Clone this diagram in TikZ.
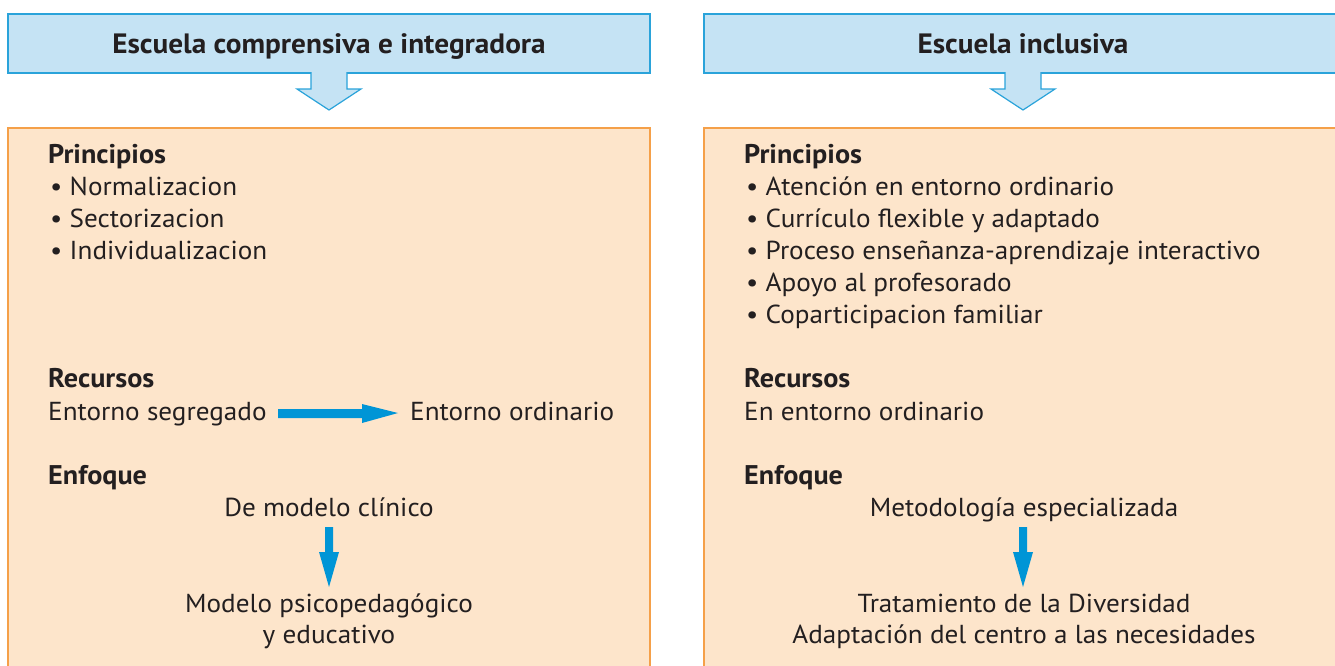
\documentclass[tikz,border=0pt]{standalone}
\usepackage{fontspec}
\setmainfont[FakeStretch=1.045]{PT Sans}
\definecolor{hdrfill}{HTML}{C5E3F4}
\definecolor{hdrline}{HTML}{2AA3DA}
\definecolor{boxfill}{HTML}{FDE5CB}
\definecolor{boxline}{HTML}{F5A049}
\definecolor{arrblue}{HTML}{0095D6}
\definecolor{txt}{HTML}{231F20}
\tikzset{
  hdr/.style={draw=hdrline, fill=hdrfill, line width=1.2pt},
  panel/.style={draw=boxline, fill=boxfill, line width=1.2pt},
  body/.style={anchor=base west, inner sep=0pt, text=txt, font=\fontsize{26}{30}\selectfont},
  bodyc/.style={anchor=base, inner sep=0pt, text=txt, font=\fontsize{26}{30}\selectfont, align=center},
  head/.style={anchor=base west, inner sep=0pt, text=txt, font=\fontsize{27}{30}\selectfont\bfseries},
  title/.style={anchor=base, inner sep=0pt, text=txt, font=\fontsize{28}{32}\selectfont\bfseries},
  blockarrow/.style={draw=hdrline, fill=hdrfill, line width=1.2pt, line join=miter},
  bluearrow/.style={fill=arrblue, draw=none}
}
\begin{document}
\begin{tikzpicture}[x=1pt,y=-1pt]
\useasboundingbox (0,0) rectangle (1335,665);
\begin{scope}
\clip (0,0) rectangle (1335,665);
% panels
\draw[panel] (8,128) rectangle (650,700);
\draw[panel] (704,128) rectangle (1360,700);
% headers
\draw[hdr] (8,14) rectangle (650,73);
\draw[hdr] (704,14) rectangle (1360,73);
% block arrows
\draw[blockarrow] (311,72) -- (311,89) -- (297,89) -- (329,110) -- (361,89) -- (347,89) -- (347,72);
\draw[blockarrow] (1005,72) -- (1005,89) -- (991,89) -- (1023,110) -- (1055,89) -- (1041,89) -- (1041,72);
% cover header bottom inside arrow stems
\fill[hdrfill] (311.6,71) rectangle (346.4,74);
\fill[hdrfill] (1005.6,71) rectangle (1040.4,74);
\end{scope}

% header titles
\node[title] (t1) at (329,53) {Escuela comprensiva e integradora};
\node[title] (t2) at (1023,53) {Escuela inclusiva};

% left panel
\node[head] (lp) at (48,163) {Principios};
\node[body] (lp1) at (50,195) {• Normalizacion};
\node[body] (lp2) at (50,227) {• Sectorizacion};
\node[body] (lp3) at (50,259) {• Individualizacion};
\node[head] (lr) at (48,387) {Recursos};
\node[body] (lr1) at (48,420) {Entorno segregado};
\node[body] (lr2) at (410,420) {Entorno ordinario};
\node[head] (le) at (48,484) {Enfoque};
\node[bodyc] (le1) at (329,516) {De modelo clínico};
\node[bodyc] (le2) at (329,612) {Modelo psicopedagógico};
\node[bodyc] (le3) at (329,643) {y educativo};

% right panel
\node[head] (rp) at (744,163) {Principios};
\node[body] (rp1) at (746,195) {• Atención en entorno ordinario};
\node[body] (rp2) at (746,227) {• Currículo flexible y adaptado};
\node[body] (rp3) at (746,259) {• Proceso enseñanza-aprendizaje interactivo};
\node[body] (rp4) at (746,291) {• Apoyo al profesorado};
\node[body] (rp5) at (746,323) {• Coparticipacion familiar};
\node[head] (rr) at (744,387) {Recursos};
\node[body] (rr1) at (744,420) {En entorno ordinario};
\node[head] (re) at (744,484) {Enfoque};
\node[bodyc] (re1) at (1024,516) {Metodología especializada};
\node[bodyc] (re2) at (1024,612) {Tratamiento de la Diversidad};
\node[bodyc] (re3) at (1024,643) {Adaptación del centro a las necesidades};

% blue arrows
\fill[bluearrow] (278,409) -- (362,409) -- (362,404) -- (398,413) -- (362,423) -- (362,418) -- (278,418) -- cycle;
\fill[bluearrow] (325,527) -- (333,527) -- (333,552) -- (339,552) -- (329,587) -- (319,552) -- (325,552) -- cycle;
\fill[bluearrow] (1019,527) -- (1027,527) -- (1027,552) -- (1033,552) -- (1023,587) -- (1013,552) -- (1019,552) -- cycle;
\end{tikzpicture}
\end{document}
